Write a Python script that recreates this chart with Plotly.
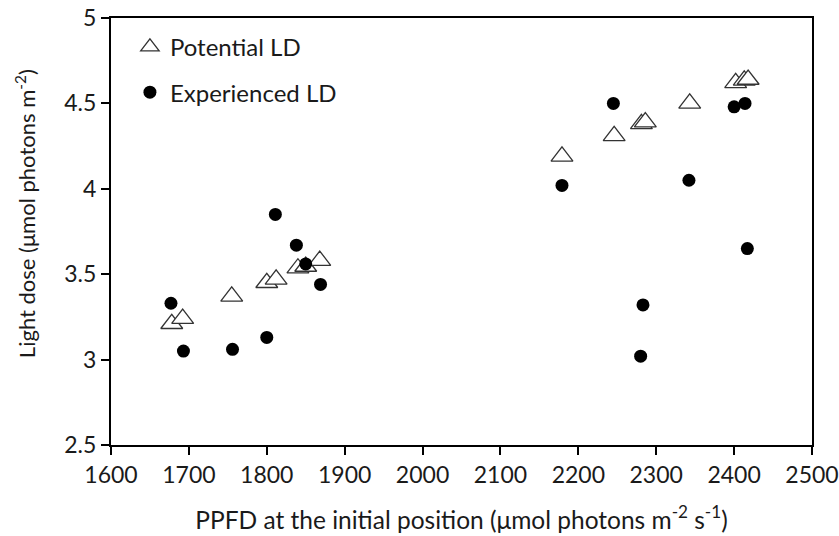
import plotly.graph_objects as go

# Potential LD (open triangles)
pot_x = [1678, 1692, 1755, 1800, 1812, 1840, 1850, 1868,
         2179, 2246, 2281, 2286, 2343, 2402, 2413, 2418]
pot_y = [3.21, 3.24, 3.37, 3.45, 3.47, 3.535, 3.545, 3.58,
         4.19, 4.31, 4.38, 4.39, 4.50, 4.62, 4.635, 4.64]

# Experienced LD (filled circles)
exp_x = [1677, 1693, 1756, 1800, 1811, 1838, 1850, 1869,
         2179, 2245, 2280, 2283, 2342, 2400, 2414, 2417]
exp_y = [3.33, 3.05, 3.06, 3.13, 3.85, 3.67, 3.56, 3.44,
         4.02, 4.50, 3.02, 3.32, 4.05, 4.48, 4.50, 3.65]

x_ticks = [1600, 1700, 1800, 1900, 2000, 2100, 2200, 2300, 2400, 2500]
y_ticks = [2.5, 3, 3.5, 4, 4.5, 5]

FONT = "Lato, Carlito, Calibri, sans-serif"
TXT = "#1a1a1a"

fig = go.Figure()
fig.add_trace(go.Scatter(
    x=pot_x, y=pot_y, mode="markers", name="Potential LD",
    legendgroup="a",
    marker=dict(symbol="triangle-up", size=19, color="white",
                line=dict(color="#333333", width=1.3)),
))
fig.add_trace(go.Scatter(
    x=exp_x, y=exp_y, mode="markers", name="Experienced LD",
    legendgroup="b",
    marker=dict(symbol="circle", size=13, color="black",
                line=dict(width=0)),
))

axis_common = dict(
    showgrid=False, zeroline=False, showline=True, linecolor="black",
    linewidth=2, mirror=True, ticks="outside", ticklen=8, tickwidth=2,
    tickcolor="black", automargin=False, ticklabeloverflow="allow",
    tickfont=dict(family=FONT, size=23, color=TXT),
)

fig.update_xaxes(range=[1600, 2500], tickvals=x_ticks,
                 ticktext=[str(v) for v in x_ticks],
                 title=dict(text="PPFD at the initial position (μmol photons m<sup>-2</sup> s<sup>-1</sup>)",
                            font=dict(family=FONT, size=24.5, color=TXT), standoff=25),
                 **axis_common)
fig.update_yaxes(range=[2.5, 5], tickvals=y_ticks,
                 ticktext=["2.5", "3", "3.5", "4", "4.5", "5"],
                 **axis_common)

fig.add_annotation(
    text="Light dose (μmol photons m<sup>-2</sup>)",
    xref="paper", yref="paper", x=-0.1227, y=0.543,
    xanchor="center", yanchor="middle", textangle=-90, showarrow=False,
    font=dict(family=FONT, size=22, color=TXT),
)

fig.update_layout(
    width=839, height=536,
    margin=dict(l=111, r=27, t=18, b=91),
    plot_bgcolor="white", paper_bgcolor="white",
    showlegend=True,
    legend=dict(x=0.027, y=0.984, xanchor="left", yanchor="top",
                bgcolor="rgba(0,0,0,0)", tracegroupgap=11,
                font=dict(family=FONT, size=24, color=TXT)),
)

fig.write_html("out.html", config={"displayModeBar": False},
               post_script="document.body.style.margin='0';document.body.style.overflow='hidden';")
